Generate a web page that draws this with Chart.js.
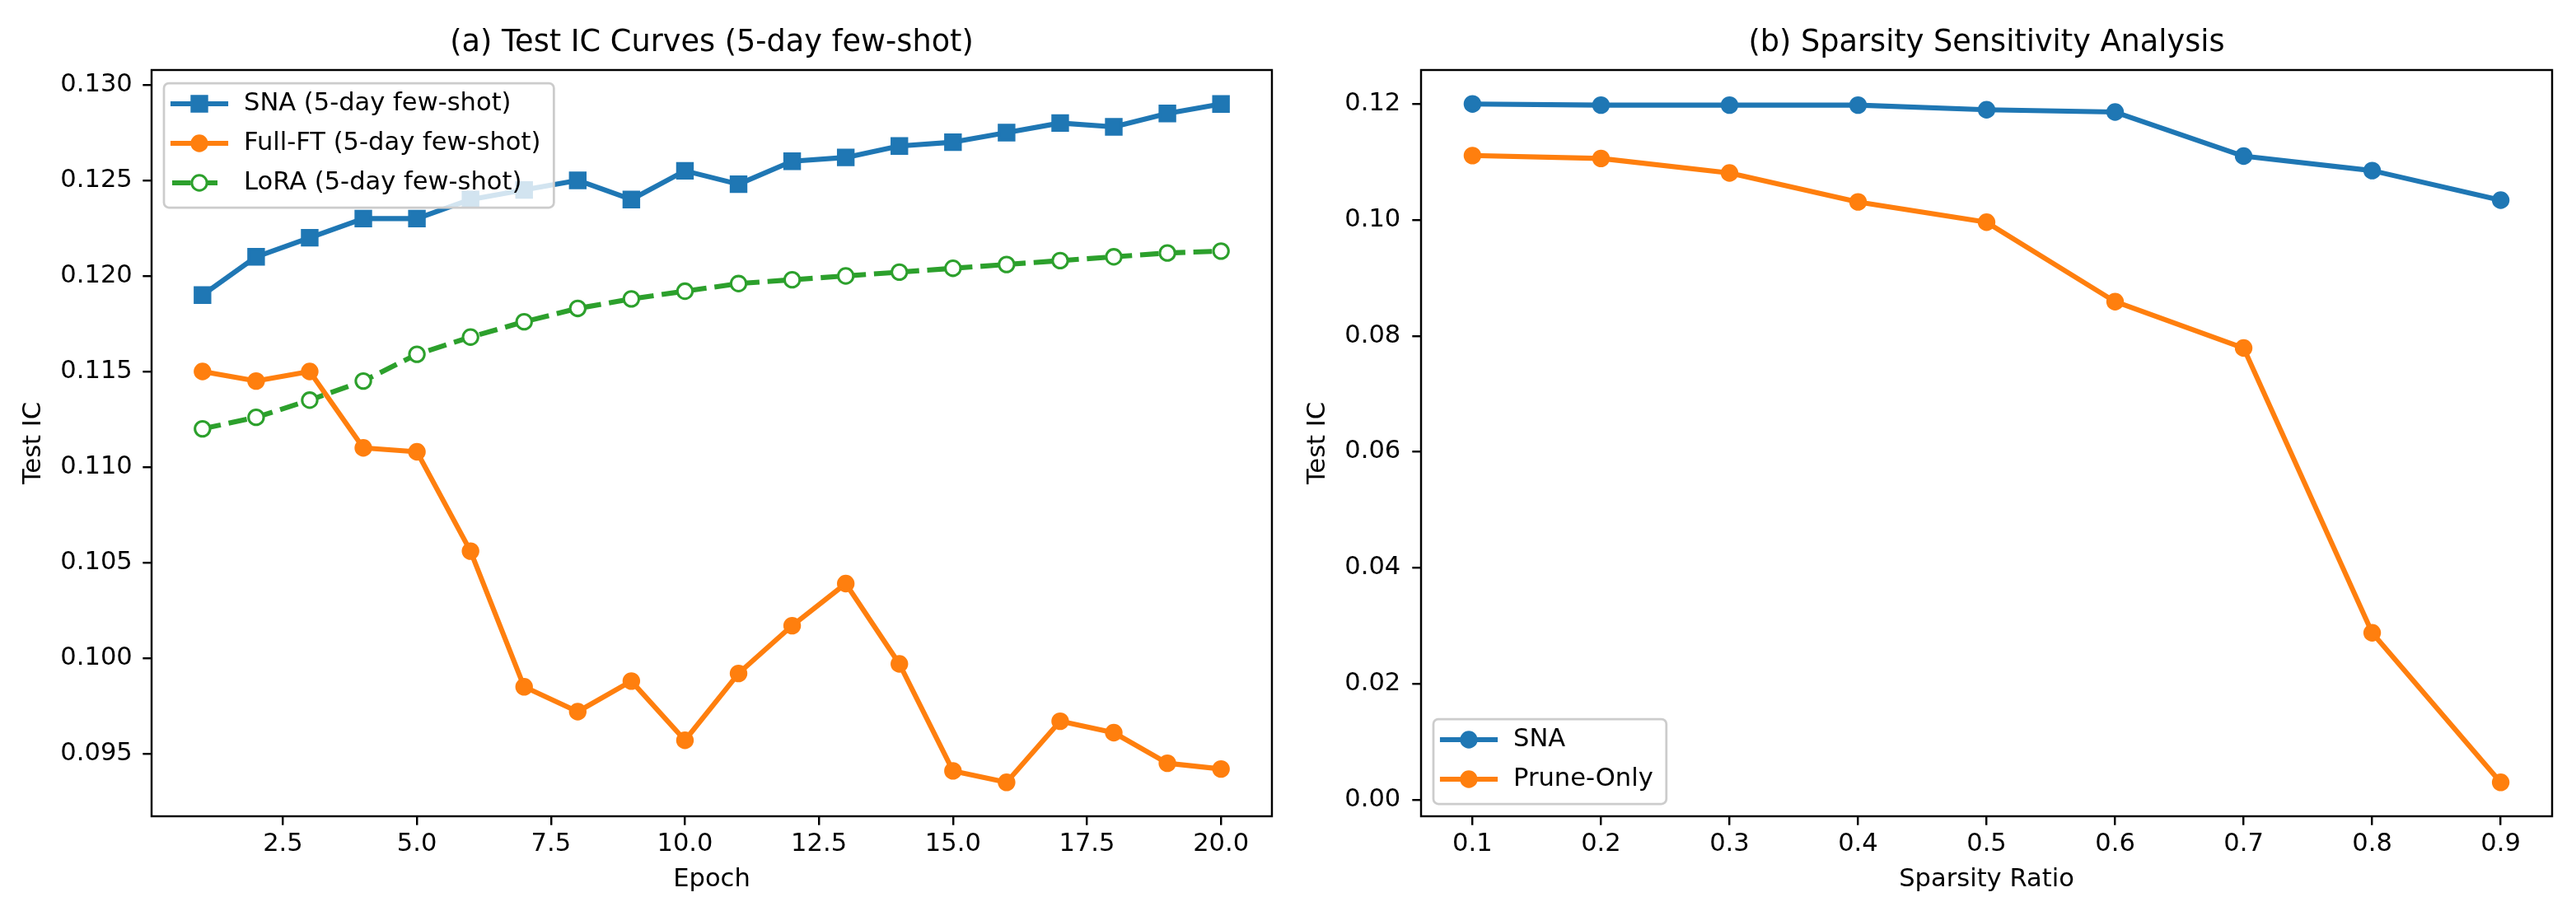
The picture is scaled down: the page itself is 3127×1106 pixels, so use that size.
<!DOCTYPE html>
<html>
<head>
<meta charset="utf-8">
<title>Test IC curves and sparsity sensitivity</title>
<script src="https://cdn.jsdelivr.net/npm/chart.js"></script>
<style>
  html, body { margin: 0; padding: 0; background: #fff; }
  #wrap { position: relative; width: 3127px; height: 1106px; }
  canvas { position: absolute; top: 0; }
  #chartA { left: 0; }
  #chartB { left: 1560px; }
</style>
</head>
<body>
<div id="wrap">
  <canvas id="chartA" width="1560" height="1106"></canvas>
  <canvas id="chartB" width="1567" height="1106"></canvas>
</div>
<script>
// ---- data: panel (a) ----
const epochs = [1, 2, 3, 4, 5, 6, 7, 8, 9, 10, 11, 12, 13, 14, 15, 16, 17, 18, 19, 20];
const snaFewShot = [0.1190, 0.1210, 0.1220, 0.1230, 0.1230, 0.1240, 0.1245, 0.1250, 0.1240, 0.1255,
                    0.1248, 0.1260, 0.1262, 0.1268, 0.1270, 0.1275, 0.1280, 0.1278, 0.1285, 0.1290];
const fullFtFewShot = [0.1150, 0.1145, 0.1150, 0.1110, 0.1108, 0.1056, 0.0985, 0.0972, 0.0988, 0.0957,
                       0.0992, 0.1017, 0.1039, 0.0997, 0.0941, 0.0935, 0.0967, 0.0961, 0.0945, 0.0942];
const loraFewShot = [0.1120, 0.1126, 0.1135, 0.1145, 0.1159, 0.1168, 0.1176, 0.1183, 0.1188, 0.1192,
                     0.1196, 0.1198, 0.1200, 0.1202, 0.1204, 0.1206, 0.1208, 0.1210, 0.1212, 0.1213];
const epochTicks = [2.5, 5.0, 7.5, 10.0, 12.5, 15.0, 17.5, 20.0];
const icTicksA = [0.095, 0.100, 0.105, 0.110, 0.115, 0.120, 0.125, 0.130];

// ---- data: panel (b) ----
const sparsityRatios = [0.1, 0.2, 0.3, 0.4, 0.5, 0.6, 0.7, 0.8, 0.9];
const snaSparsity = [0.1200, 0.1198, 0.1198, 0.1198, 0.1190, 0.1186, 0.1110, 0.1085, 0.1034];
const pruneOnly = [0.1111, 0.1106, 0.1081, 0.1031, 0.0996, 0.0859, 0.0779, 0.0288, 0.0030];
const ratioTicks = [0.1, 0.2, 0.3, 0.4, 0.5, 0.6, 0.7, 0.8, 0.9];
const icTicksB = [0.00, 0.02, 0.04, 0.06, 0.08, 0.10, 0.12];

// matplotlib look (figure saved at ~220 dpi)
const PT = 220 / 72;         // px per point
const BLUE = '#1f77b4', ORANGE = '#ff7f0e', GREEN = '#2ca02c';

Chart.defaults.font.family = "'DejaVu Sans', sans-serif";
Chart.defaults.color = '#000';

// autoscale with 5% margins, like matplotlib
function padded(values, frac) {
    const lo = Math.min(...values), hi = Math.max(...values);
    const m = (hi - lo) * frac;
    return [lo - m, hi + m];
}

function buildAxis(o) {
    return {
        type: 'linear',
        min: o.range[0],
        max: o.range[1],
        afterBuildTicks: s => { s.ticks = o.ticks.map(v => ({ value: v })); },
        afterFit: s => {
            if (o.width) s.width = o.width;
            if (o.height) s.height = o.height;
        },
        ticks: {
            callback: v => v.toFixed(o.digits),
            padding: o.tickPad,
            font: { size: 10 * PT },
            color: '#000',
            autoSkip: false,
            maxRotation: 0
        },
        grid: {
            drawOnChartArea: false,
            drawTicks: true,
            tickLength: 3.5 * PT,
            color: '#000',
            lineWidth: 0.8 * PT
        },
        border: { display: false },
        title: {
            display: true,
            text: o.title,
            font: { size: 10 * PT },
            color: '#000',
            padding: o.titlePad
        }
    };
}

function series(label, xs, ys, color, style, order) {
    return {
        label,
        data: xs.map((x, i) => ({ x, y: ys[i] })),
        borderColor: color,
        backgroundColor: color,
        borderWidth: 2 * PT,
        borderDash: style.dash || [],
        borderJoinStyle: 'round',
        borderCapStyle: style.dash ? 'butt' : 'square',
        pointStyle: style.marker,
        pointRadius: style.marker === 'rect' ? 3 * PT * Math.SQRT2 : 3 * PT,
        pointBorderWidth: PT,
        pointBackgroundColor: style.hollow ? '#ffffff' : color,
        pointBorderColor: color,
        tension: 0,
        order
    };
}

// all four spines, drawn above the lines
const spines = {
    id: 'spines',
    afterDatasetsDraw(chart) {
        const { ctx, chartArea: a } = chart;
        ctx.save();
        ctx.strokeStyle = '#000';
        ctx.lineWidth = 0.8 * PT;
        ctx.strokeRect(a.left, a.top, a.right - a.left, a.bottom - a.top);
        ctx.restore();
    }
};

// matplotlib-style legend inside the axes (line + marker handles)
const insideLegend = {
    id: 'insideLegend',
    afterDraw(chart, args, opts) {
        const { ctx, chartArea: a } = chart;
        const items = chart.data.datasets.slice().sort((p, q) => q.order - p.order);
        const fontSize = 10 * PT;
        ctx.save();
        ctx.font = fontSize + "px 'DejaVu Sans', sans-serif";
        const textW = Math.max(...items.map(d => ctx.measureText(d.label).width));
        const w = 8 + 70 + 20 + textW + 15;
        const h = 25 + (items.length - 1) * 48 + 30;
        const x = a.left + 15;
        const y = opts.corner === 'upper left' ? a.top + 16 : a.bottom - 15 - h;

        ctx.beginPath();
        ctx.roundRect(x, y, w, h, 6);
        ctx.fillStyle = 'rgba(255,255,255,0.8)';
        ctx.fill();
        ctx.strokeStyle = '#cccccc';
        ctx.lineWidth = PT * 0.9;
        ctx.stroke();

        items.forEach((d, i) => {
            const cy = y + 25 + i * 48;
            const mx = x + 43;
            const dashed = d.borderDash.length > 0;
            ctx.beginPath();
            ctx.setLineDash(d.borderDash);
            ctx.lineCap = d.borderCapStyle;
            ctx.lineWidth = d.borderWidth;
            ctx.strokeStyle = d.borderColor;
            ctx.moveTo(dashed ? x + 10 : x + 11, cy);
            ctx.lineTo(dashed ? x + 72 : x + 75, cy);
            ctx.stroke();
            ctx.setLineDash([]);

            ctx.beginPath();
            if (d.pointStyle === 'rect') {
                const s = d.pointRadius * Math.SQRT1_2;
                ctx.rect(mx - s, cy - s, 2 * s, 2 * s);
            } else {
                ctx.arc(mx, cy, d.pointRadius, 0, Math.PI * 2);
            }
            ctx.fillStyle = d.pointBackgroundColor;
            ctx.fill();
            ctx.lineWidth = d.pointBorderWidth;
            ctx.strokeStyle = d.pointBorderColor;
            ctx.stroke();

            ctx.fillStyle = '#000';
            ctx.textAlign = 'left';
            ctx.textBaseline = 'middle';
            ctx.fillText(d.label, x + 97, cy);
        });
        ctx.restore();
    }
};

function baseOptions(title, padRight, corner, xAxis, yAxis) {
    return {
        responsive: false,
        animation: false,
        events: [],
        layout: { padding: { left: 0, right: padRight, top: 0, bottom: 0 } },
        plugins: {
            legend: { display: false },
            tooltip: { enabled: false },
            title: {
                display: true,
                text: title,
                fullSize: false,
                font: { size: 12 * PT, weight: 'normal' },
                color: '#000',
                padding: { top: 30.7, bottom: 10.3 }
            },
            insideLegend: { corner }
        },
        scales: { x: xAxis, y: yAxis }
    };
}

new Chart(document.getElementById('chartA'), {
    type: 'line',
    data: {
        datasets: [
            series('SNA (5-day few-shot)', epochs, snaFewShot, BLUE, { marker: 'rect' }, 3),
            series('Full-FT (5-day few-shot)', epochs, fullFtFewShot, ORANGE, { marker: 'circle' }, 2),
            series('LoRA (5-day few-shot)', epochs, loraFewShot, GREEN,
                   { marker: 'circle', hollow: true, dash: [3.7 * 2 * PT, 1.6 * 2 * PT] }, 1)
        ]
    },
    options: baseOptions('(a) Test IC Curves (5-day few-shot)', 5, 'upper left',
        buildAxis({ range: padded(epochs, 0.05), ticks: epochTicks, digits: 1, tickPad: 5,
                    height: 115, title: 'Epoch', titlePad: { top: 0, bottom: 19.6 } }),
        buildAxis({ range: padded(snaFewShot.concat(fullFtFewShot, loraFewShot), 0.05), ticks: icTicksA,
                    digits: 3, tickPad: 12.5, width: 184, title: 'Test IC', titlePad: { top: 22.6, bottom: 0 } })),
    plugins: [spines, insideLegend]
});

new Chart(document.getElementById('chartB'), {
    type: 'line',
    data: {
        datasets: [
            series('SNA', sparsityRatios, snaSparsity, BLUE, { marker: 'circle' }, 2),
            series('Prune-Only', sparsityRatios, pruneOnly, ORANGE, { marker: 'circle' }, 1)
        ]
    },
    options: baseOptions('(b) Sparsity Sensitivity Analysis', 29, 'lower left',
        buildAxis({ range: padded(sparsityRatios, 0.05), ticks: ratioTicks, digits: 1, tickPad: 5,
                    height: 115, title: 'Sparsity Ratio', titlePad: { top: 0, bottom: 19.6 } }),
        buildAxis({ range: padded(snaSparsity.concat(pruneOnly), 0.05), ticks: icTicksB,
                    digits: 2, tickPad: 14, width: 165, title: 'Test IC', titlePad: { top: 21.6, bottom: 0 } })),
    plugins: [spines, insideLegend]
});
</script>
</body>
</html>
